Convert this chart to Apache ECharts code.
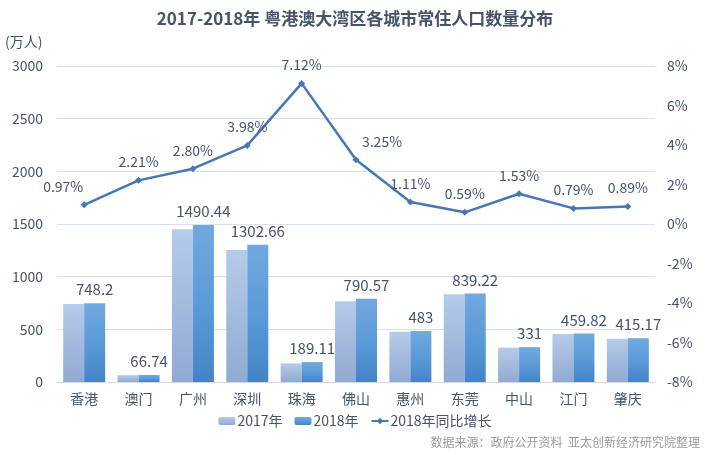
<!DOCTYPE html>
<html>
<head>
<meta charset="utf-8">
<script src="https://cdn.jsdelivr.net/npm/echarts@6/dist/echarts.min.js"></script>
<style>
  html, body { margin: 0; padding: 0; background: #fff; }
  #chart { width: 710px; height: 455px; }
</style>
</head>
<body>
<div id="chart"></div>
<script>
const cities = ['香港', '澳门', '广州', '深圳', '珠海', '佛山', '惠州', '东莞', '中山', '江门', '肇庆'];
const pop2017 = [740.98, 65.3, 1449.84, 1252.83, 176.54, 765.67, 477.7, 834.25, 326, 456.2, 411.54];
const pop2018 = [748.2, 66.74, 1490.44, 1302.66, 189.11, 790.57, 483, 839.22, 331, 459.82, 415.17];
const growth = [0.97, 2.21, 2.80, 3.98, 7.12, 3.25, 1.11, 0.59, 1.53, 0.79, 0.89];

const textColor = '#44546A';
const font = '"Microsoft YaHei", "Noto Sans CJK SC", sans-serif';

const chart = echarts.init(document.getElementById('chart'));

// two labels sit to the side of their point
const growthData = growth.map((v, i) => {
  const item = { value: v / 100 };
  if (i === 0) item.label = { offset: [-21, 0] };
  if (i === 5) item.label = { offset: [26, 0] };
  return item;
});

chart.setOption({
  backgroundColor: '#fff',
  textStyle: { fontFamily: font },
  title: {
    text: '2017-2018年 粤港澳大湾区各城市常住人口数量分布',
    left: 'center',
    top: 5,
    textStyle: { color: textColor, fontSize: 17, fontWeight: 'bold' }
  },
  graphic: [
    {
      type: 'text', left: 5, top: 35,
      style: { text: '(万人)', fill: textColor, fontSize: 14, fontFamily: font }
    },
    {
      type: 'text', right: 10, top: 436,
      style: { text: '数据来源：政府公开资料  亚太创新经济研究院整理', fill: '#9a9a9a', fontSize: 12, fontFamily: font }
    }
  ],
  legend: {
    bottom: 22,
    left: 'center',
    itemGap: 12,
    itemWidth: 17,
    itemHeight: 8,
    textStyle: { color: textColor, fontSize: 14, padding: [0, 0, 0, -3] },
    data: ['2017年', '2018年', '2018年同比增长']
  },
  grid: { left: 57, right: 55, top: 66, bottom: 73 },
  xAxis: {
    type: 'category',
    data: cities,
    axisLine: { lineStyle: { color: '#d9d9d9' } },
    axisTick: { show: false },
    axisLabel: { color: textColor, fontSize: 14, margin: 10 }
  },
  yAxis: [
    {
      type: 'value', min: 0, max: 3000, interval: 500,
      axisLine: { show: false }, axisTick: { show: false },
      axisLabel: { color: textColor, fontSize: 14, margin: 14, formatter: v => String(v) },
      splitLine: { lineStyle: { color: '#d9e1ea' } }
    },
    {
      type: 'value', min: -0.08, max: 0.08, interval: 0.02,
      axisLine: { show: false }, axisTick: { show: false },
      axisLabel: { color: textColor, fontSize: 14, margin: 12,
        formatter: v => Math.round(v * 100) + '%' },
      splitLine: { show: false }
    }
  ],
  series: [
    {
      name: '2017年', type: 'bar', data: pop2017,
      barWidth: 21, barGap: '0%',
      itemStyle: {
        color: new echarts.graphic.LinearGradient(0, 0, 0, 1, [
          { offset: 0, color: '#b6cbea' },
          { offset: 1, color: '#91aad2' }
        ])
      }
    },
    {
      name: '2018年', type: 'bar', data: pop2018,
      barWidth: 21,
      itemStyle: {
        color: new echarts.graphic.LinearGradient(0, 0, 0, 1, [
          { offset: 0, color: '#72a8df' },
          { offset: 0.5, color: '#5b9bd8' },
          { offset: 1, color: '#4484c6' }
        ])
      },
      label: {
        show: true, position: 'top', distance: 6,
        color: textColor, fontSize: 15
      }
    },
    {
      name: '2018年同比增长', type: 'line', yAxisIndex: 1,
      data: growthData,
      symbol: 'diamond', symbolSize: 7,
      lineStyle: { color: '#4677b5', width: 2.5 },
      itemStyle: { color: '#4677b5' },
      label: {
        show: true, position: 'top', distance: 8,
        color: textColor, fontSize: 14,
        formatter: p => (p.value * 100).toFixed(2) + '%'
      }
    }
  ]
});
</script>
</body>
</html>
